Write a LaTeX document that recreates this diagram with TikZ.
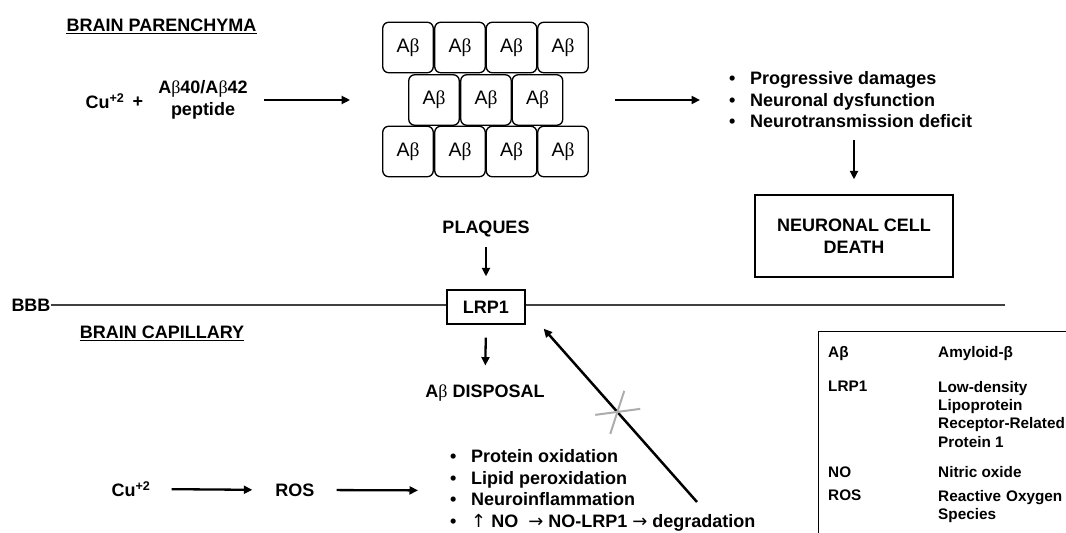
\documentclass[tikz,border=0pt]{standalone}
\usepackage{fontspec}
\setmainfont{Liberation Sans}
\newfontfamily\symbfont{Liberation Serif}
\newfontfamily\arrfont{DejaVu Sans}
\usetikzlibrary{arrows.meta,calc}

\newcommand{\bt}{{\symbfont\mdseries β}}
\newcommand{\blt}{\makebox[21pt][l]{•}}
\newcommand{\uparr}{{\arrfont\mdseries ↑}}
\newcommand{\rtarr}{{\arrfont\mdseries →}}

\begin{document}
\begin{tikzpicture}[x=1pt, y=-1pt,
    lbl/.style ={font=\bfseries\fontsize{18pt}{21.5pt}\selectfont, inner sep=0pt},
    abox/.style={draw, rounded corners=6pt, minimum size=50.5pt, line width=1.3pt,
                 inner sep=0pt, font=\fontsize{19.5pt}{20pt}\selectfont},
    frame/.style={draw, line width=1.3pt},
    arr/.style ={-{Triangle[length=8.5pt,width=8pt]}, line width=2.3pt},
    key/.style ={font=\bfseries\fontsize{15.3pt}{18.3pt}\selectfont, anchor=north west,
                 inner sep=0pt, align=left}
]
\useasboundingbox (0,0) rectangle (1066,533);
\clip (0,0) rectangle (1066,533);

% Brain parenchyma side
\node[lbl] (parT) at (161.5,25) {BRAIN PARENCHYMA};
\draw[line width=1.3pt] ([yshift=-2.5pt]parT.base west) -- ([yshift=-2.5pt]parT.base east);

\node[lbl] (cu1)  at (105,101) {Cu\textsuperscript{+2}};
\node[lbl] (plus) at (138,102) {+};
\node[lbl, align=center] (pep) at (203,100) {A\bt40/A\bt42\\peptide};

% Amyloid aggregate
\node[abox] (b11) at (408,47.5) {A\bt};  \node[abox] (b12) at (460,47.5) {A\bt};
\node[abox] (b13) at (511.5,47.5) {A\bt}; \node[abox] (b14) at (563,47.5) {A\bt};
\node[abox] (b21) at (434,100) {A\bt};   \node[abox] (b22) at (486,100) {A\bt};
\node[abox] (b23) at (537.5,100) {A\bt};
\node[abox] (b31) at (408,151.5) {A\bt}; \node[abox] (b32) at (460,151.5) {A\bt};
\node[abox] (b33) at (511.5,151.5) {A\bt}; \node[abox] (b34) at (563,151.5) {A\bt};

\draw[arr, shorten <=16pt, shorten >=58pt] (pep.east) -- (b21.west);

% Effects on neurons
\node[lbl, anchor=west, align=left] (eff) at (729,100)
     {\blt Progressive damages\\ \blt Neuronal dysfunction\\ \blt Neurotransmission deficit};
\draw[arr, shorten <=52pt, shorten >=29pt] (b23.east) -- (eff.west);

\node[lbl, frame, align=center, minimum width=198pt, minimum height=82pt] (death)
     at (854,236) {NEURONAL CELL\\DEATH};
\draw[arr, shorten <=12pt, shorten >=15pt] (death.north |- eff.south) -- (death.north);

% Blood-brain barrier
\node[lbl] (plaq) at (486,229) {PLAQUES};
\node[lbl] (bbb) at (31,305) {BBB};
\node[lbl, frame, minimum width=78pt, minimum height=34pt] (lrp) at (486,307) {LRP1};
\coordinate (bbbEnd) at (1005,305);
\draw[line width=1.4pt, black!75] (bbb.east) -- (bbb.east -| lrp.west);
\draw[line width=1.4pt, black!75] (bbb.east -| lrp.east) -- (bbbEnd);
\draw[arr, shorten <=10pt, shorten >=13pt] (plaq.south) -- (lrp.north);

% Brain capillary side
\node[lbl] (capT) at (162,332) {BRAIN CAPILLARY};
\draw[line width=1.3pt] ([yshift=-2.5pt]capT.base west) -- ([yshift=-2.5pt]capT.base east);

\node[lbl] (disp) at (485,393) {A\bt{} DISPOSAL};
\draw[arr, shorten <=13pt, shorten >=19pt] (lrp.south) -- (disp.north);

\node[lbl] (cu2) at (131,489) {Cu\textsuperscript{+2}};
\node[lbl] (ros) at (295,490) {ROS};
\node[lbl, anchor=west, align=left] (ox) at (450,490.5)
     {\blt Protein oxidation\\ \blt Lipid peroxidation\\ \blt Neuroinflammation\\
      \blt \uparr\ NO \ \rtarr\ NO-LRP1 \rtarr\ degradation};
\draw[arr, shorten <=21pt, shorten >=23pt] (cu2.east) -- (ros.west);
\draw[arr, shorten <=22pt, shorten >=32pt] (ros.east) -- (ox.west);

% Blocked recovery of LRP1
\coordinate (noStart) at (697,502);
\coordinate (noTip) at ($(lrp.south east)+(18,4)$);
\draw[arr, line width=2.5pt] (noStart) -- (noTip);
\coordinate (blockX) at ($(noStart)!0.52!(noTip)$);
\draw[gray!65, line width=2pt] ($(blockX)+(-22,3)$) -- ($(blockX)+(23,-3)$);
\draw[gray!65, line width=2pt] ($(blockX)+(7,-21)$) -- ($(blockX)+(-7,22)$);

% Abbreviation key
\node[frame, anchor=north west, minimum width=270pt, minimum height=220pt] (keyBox)
     at (818,331) {};
\node[key] (kAb)   at (828,346) {Aβ};
\node[key] (dAb)   at (938,346) {Amyloid-β};
\node[key] (kLrp)  at (828,381) {LRP1};
\node[key] (dLrp)  at (938,381) {Low-density\\Lipoprotein\\Receptor-Related\\Protein 1};
\node[key] (kNo)   at (828,467) {NO};
\node[key] (dNo)   at (938,466) {Nitric oxide};
\node[key] (kRos)  at (828,490) {ROS};
\node[key] (dRos)  at (938,490) {Reactive\hspace{5pt}Oxygen\\Species};
\end{tikzpicture}
\end{document}
